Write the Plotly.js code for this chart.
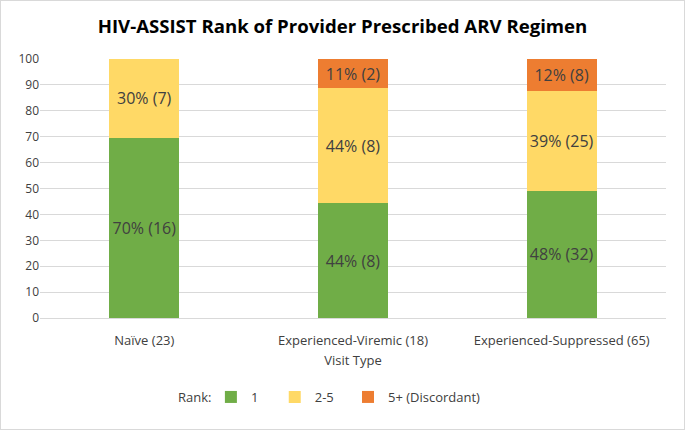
<!DOCTYPE html>
<html><head><meta charset="utf-8">
<script src="https://cdn.plot.ly/plotly-3.0.1.min.js"></script>
<style>
html,body{margin:0;padding:0;background:#fff;}
#wrap{width:685px;height:430px;box-sizing:border-box;border:1px solid #d9d9d9;}
#chart{width:683px;height:428px;}
</style></head>
<body><div id="wrap"><div id="chart"></div></div>
<script>
const categories = ["Naïve (23)", "Experienced-Viremic (18)", "Experienced-Suppressed (65)"];
const rank1 = [69.6, 44.4, 49.2];
const rank2to5 = [30.4, 44.4, 38.5];
const rank5plus = [0, 11.1, 12.3];
const rank1Labels = ["70% (16)", "44% (8)", "48% (32)"];
const rank2to5Labels = ["30% (7)", "44% (8)", "39% (25)"];
const rank5plusLabels = ["", "11% (2)", "12% (8)"];
const seriesNames = ["1", "2-5", "5+ (Discordant)"];
const yTicks = [0,10,20,30,40,50,60,70,80,90,100];

const font = "Open Sans, sans-serif";
const colors = ["#70AD47", "#FFD966", "#ED7D31"];
const vals = [rank1, rank2to5, rank5plus];
const labs = [rank1Labels, rank2to5Labels, rank5plusLabels];
const legendIds = ["legend", "legend2", "legend3"];
const traces = vals.map((v, i) => ({
  type: "bar", x: categories, y: v, name: seriesNames[i],
  marker: {color: colors[i]},
  text: labs[i], texttemplate: "%{text}", textposition: "inside",
  insidetextanchor: "middle", constraintext: "none",
  textfont: {family: font, size: 16, color: "#404040"},
  hoverinfo: "skip", legend: legendIds[i]
}));

const legendBase = (x) => ({orientation: "h", x: x, xanchor: "left", y: -0.305, yanchor: "middle",
  font: {family: font, size: 13, color: "#404040"}, bgcolor: "rgba(0,0,0,0)"});

const layout = {
  width: 683, height: 428,
  margin: {l: 39, r: 18, t: 58, b: 111},
  paper_bgcolor: "#fff", plot_bgcolor: "#fff",
  barmode: "stack", bargap: 0.665,
  showlegend: true,
  title: {text: "<b>HIV-ASSIST Rank of Provider Prescribed ARV Regimen</b>",
    font: {family: font, size: 18.6, color: "#000"}, x: 0.5, xanchor: "center", y: 0.94, yanchor: "middle"},
  xaxis: {type: "category", showgrid: false, showline: false, zeroline: false,
    tickfont: {family: font, size: 13, color: "#404040"}, ticks: "outside", ticklen: 10, tickcolor: "rgba(0,0,0,0)",
    title: {text: "Visit Type", font: {family: font, size: 13, color: "#404040"}, standoff: 8}},
  yaxis: {range: [0, 100], tickvals: yTicks, showgrid: true, gridcolor: "#d9d9d9", gridwidth: 1,
    zeroline: true, zerolinecolor: "#d9d9d9", showline: false, ticks: "",
    tickfont: {family: font, size: 12, color: "#404040"}, fixedrange: true},
  legend: legendBase(0.273),
  legend2: legendBase(0.375),
  legend3: legendBase(0.492),
  annotations: [{text: "Rank:", xref: "paper", yref: "paper", x: 0.276, y: -0.305,
    xanchor: "right", yanchor: "middle", showarrow: false,
    font: {family: font, size: 13, color: "#404040"}}]
};
Plotly.newPlot("chart", traces, layout, {displayModeBar: false, staticPlot: true});
</script></body></html>
